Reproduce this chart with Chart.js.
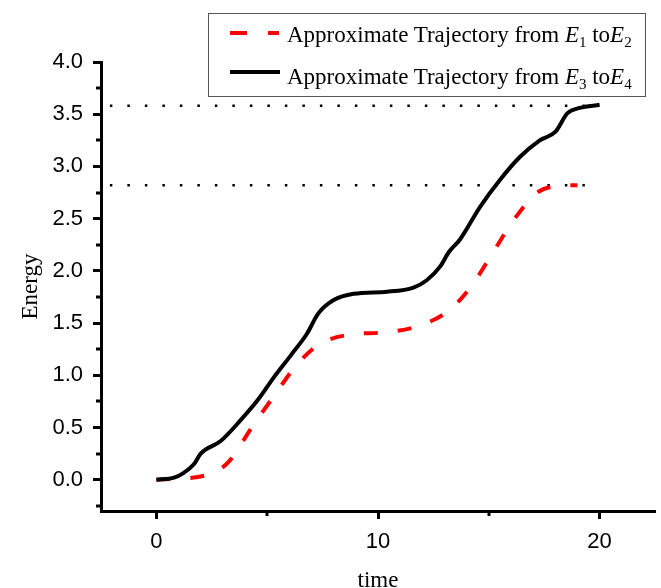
<!DOCTYPE html>
<html>
<head>
<meta charset="utf-8">
<script src="https://cdn.jsdelivr.net/npm/chart.js@4.4.1/dist/chart.umd.min.js"></script>
<style>
  body { margin: 0; background: #fff; }
  #wrap { position: relative; width: 661px; height: 588px; }
  #legend {
    position: absolute; left: 208px; top: 13px; width: 436px; height: 82px;
    border: 1px solid #555; font-family: "Liberation Serif", serif; font-size: 23px; color: #000;
  }
  .row { position: absolute; left: 78px; line-height: 24px; white-space: nowrap; }
  .row i { font-style: italic; }
  .row sub { font-size: 15px; vertical-align: -5px; line-height: 0; }
  .swatch { position: absolute; height: 4px; }
</style>
</head>
<body>
<div id="wrap">
  <canvas id="myChart" width="661" height="588"></canvas>
  <div id="legend"></div>
</div>
<script>
// E1 -> E2 (red dashed)
var timeE12 = [0, 1, 2, 2.7, 3.3, 4.3, 5.3, 6.3, 7.3, 8.75, 10.25, 11.8, 13.2, 14.2, 15.2, 16.1, 17.2, 18.0, 19.0]
var energyE12 = [0, 0.01, 0.03, 0.08, 0.18, 0.5, 0.8, 1.09, 1.29, 1.39, 1.41, 1.47, 1.62, 1.85, 2.18, 2.48, 2.75, 2.81, 2.82]

// E3 -> E4 (black solid)
var timeE34 = [0, 0.8, 1.2, 1.7, 2.0, 2.9, 3.8, 4.6, 5.3, 6.1, 6.8, 7.3, 8.0, 8.9, 10.4, 11.6, 12.2, 12.8, 13.2, 13.7, 14.6, 15.5, 16.4, 17.3, 18.0, 18.55, 19.1, 20.0]
var energyE34 = [0, 0.02, 0.06, 0.15, 0.25, 0.37, 0.57, 0.77, 0.98, 1.2, 1.4, 1.59, 1.72, 1.78, 1.80, 1.84, 1.91, 2.04, 2.18, 2.30, 2.61, 2.87, 3.09, 3.25, 3.33, 3.51, 3.56, 3.59]

// dotted reference levels
var refLevels = [3.58, 2.82]
var refTime = [-2.1, 20]

var xTicks = [0, 10, 20]
var xMinor = [5, 15]
var yTicks = [0, 0.5, 1, 1.5, 2, 2.5, 3, 3.5, 4]
var yMinor = [-0.25, 0.25, 0.75, 1.25, 1.75, 2.25, 2.75, 3.25, 3.75]

function pts(xs, ys) {
    return xs.map(function (x, i) { return { x: x, y: ys[i] } })
}

var datasets = [
    {
        label: "E3 to E4", data: pts(timeE34, energyE34), borderColor: "#000", borderWidth: 4,
        pointRadius: 0, cubicInterpolationMode: "monotone", order: 0
    },
    {
        label: "E1 to E2", data: pts(timeE12, energyE12), borderColor: "#ff0000", borderWidth: 4,
        borderDash: [14, 20], borderCapStyle: "butt", pointRadius: 0, cubicInterpolationMode: "monotone", order: 1
    }
]
refLevels.forEach(function (lv) {
    datasets.push({
        label: "ref", data: refTime.map(function (t) { return { x: t, y: lv } }), borderColor: "#000",
        borderWidth: 2.5, borderDash: [2.5, 15], pointRadius: 0, order: 5
    })
})

// minor ticks drawn outside the axes
const minorTicks = {
    id: "minorTicks",
    afterDraw(chart) {
        const ctx = chart.ctx
        const xs = chart.scales.x, ys = chart.scales.y
        const area = chart.chartArea
        ctx.save()
        ctx.strokeStyle = "#000"
        ctx.lineWidth = 3
        xMinor.forEach(function (v) {
            const px = Math.round(xs.getPixelForValue(v))
            ctx.beginPath(); ctx.moveTo(px, area.bottom); ctx.lineTo(px, area.bottom + 5); ctx.stroke()
        })
        yMinor.forEach(function (v) {
            const py = Math.round(ys.getPixelForValue(v))
            ctx.beginPath(); ctx.moveTo(area.left, py); ctx.lineTo(area.left - 5, py); ctx.stroke()
        })
        ctx.restore()
    }
}

const tickFont = { family: "'Liberation Sans', Arial, sans-serif", size: 22 }
const titleFont = { family: "'Liberation Serif', 'Times New Roman', serif", size: 23 }

const config = {
    type: "line",
    data: { datasets: datasets },
    options: {
        responsive: false,
        animation: false,
        layout: { padding: { top: 62, right: 6, left: 0, bottom: 0 } },
        plugins: { legend: { display: false }, tooltip: { enabled: false } },
        scales: {
            x: {
                type: "linear", min: -2.5, max: 22.5,
                afterBuildTicks: function (s) { s.ticks = xTicks.map(function (v) { return { value: v } }) },
                afterFit: function (s) { s.height = 77 },
                grid: { drawOnChartArea: false, tickLength: 8, tickWidth: 3, tickColor: "#000" },
                border: { display: true, color: "#000", width: 3 },
                ticks: { font: tickFont, color: "#000", padding: 10, maxRotation: 0 },
                title: { display: true, text: "time", font: titleFont, color: "#000", padding: { top: 0, bottom: -7 } }
            },
            y: {
                min: -0.3, max: 4.0,
                afterBuildTicks: function (s) { s.ticks = yTicks.map(function (v) { return { value: v } }) },
                afterFit: function (s) { s.width = 101 },
                grid: { drawOnChartArea: false, tickLength: 8, tickWidth: 3, tickColor: "#000" },
                border: { display: true, color: "#000", width: 3 },
                ticks: {
                    font: tickFont, color: "#000", padding: 10,
                    callback: function (v) { return Number(v).toFixed(1) }
                },
                title: { display: true, text: "Energy", font: titleFont, color: "#000", padding: { top: 17, bottom: 0 } }
            }
        }
    },
    plugins: [minorTicks]
}

const myChart = new Chart(document.getElementById("myChart"), config)

// legend with subscripts
var legendRows = [
    { from: "1", to: "2", top: 9 },
    { from: "3", to: "4", top: 51 }
]
var lg = document.getElementById("legend")
lg.innerHTML =
    "<span class='swatch' style='left:21px;top:17px;width:17px;background:#ff0000'></span>" +
    "<span class='swatch' style='left:59px;top:17px;width:11px;background:#ff0000'></span>" +
    "<span class='swatch' style='left:21px;top:56px;width:50px;background:#000'></span>"
legendRows.forEach(function (r) {
    lg.innerHTML += "<div class='row' style='top:" + r.top + "px'>Approximate Trajectory from <i>E</i><sub>" + r.from +
        "</sub> to<i>E</i><sub>" + r.to + "</sub></div>"
})
</script>
</body>
</html>
